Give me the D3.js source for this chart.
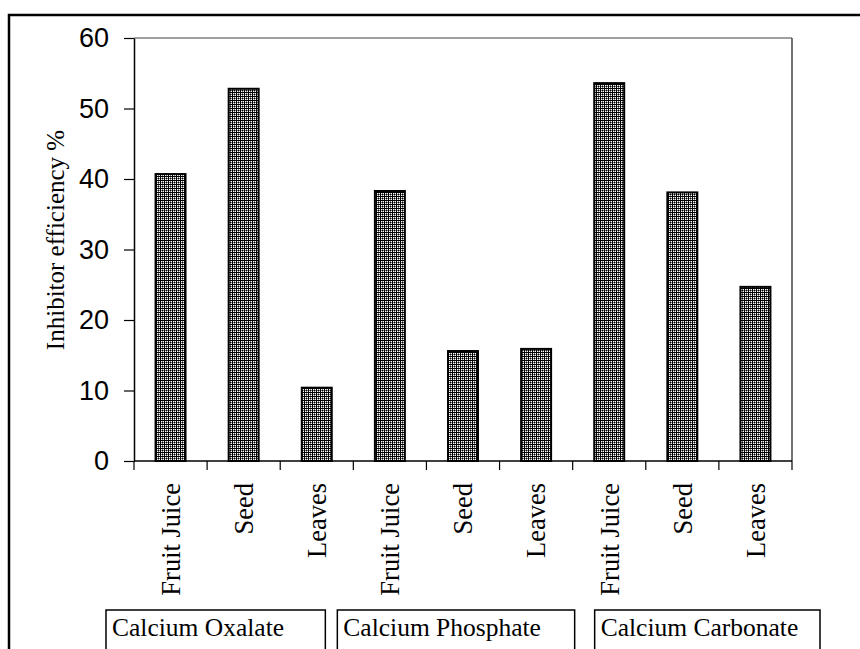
<!DOCTYPE html>
<style>
body { margin: 0; background: #fff; }
#thevis { display: block; background: #fff; }
</style>
<svg id="thevis" width="860" height="649"></svg>
<script src="https://cdn.jsdelivr.net/npm/d3@7/dist/d3.min.js"></script>
<script>

// values
var parts = ["Fruit Juice", "Seed", "Leaves", "Fruit Juice", "Seed", "Leaves", "Fruit Juice", "Seed", "Leaves"];
var efficiency = [40.7, 52.8, 10.4, 38.3, 15.6, 15.9, 53.6, 38.1, 24.7];
var groups = ["Calcium Oxalate", "Calcium Phosphate", "Calcium Carbonate"];
var yTicks = [0, 10, 20, 30, 40, 50, 60];

var svg = d3.select("svg"),
	plotL = 134, plotR = 792, plotT = 38, plotB = 461;

// outer frame (runs off the page on the right and bottom)
svg.append("rect")
	.attr("x", 9).attr("y", 15)
	.attr("width", 900).attr("height", 700)
	.attr("fill", "none").attr("stroke", "#000").attr("stroke-width", 2.5);

// dotted fill like the old excel pattern
var pat = svg.append("defs").append("pattern")
	.attr("id", "dots").attr("patternUnits", "userSpaceOnUse")
	.attr("width", 4).attr("height", 4);
pat.append("rect").attr("width", 4).attr("height", 4).attr("fill", "#fff");
pat.append("path").attr("d", "M0,0h4v1h-4z M0,0h1v4h-1z M2,2h1v1h-1z").attr("fill", "#000");
pat.append("path").attr("d", "M1,2h1v1h-1z M3,2h1v1h-1z M2,1h1v1h-1z M2,3h1v1h-1z").attr("fill", "#777");

var x = d3.scaleBand()
	.domain(d3.range(parts.length))
	.range([plotL, plotR]);

var y = d3.scaleLinear()
	.domain([0, 60])
	.range([plotB, plotT]);

// plot box top + right edge
svg.append("line").attr("x1", plotL).attr("x2", plotR).attr("y1", plotT).attr("y2", plotT)
	.attr("stroke", "#808080").attr("stroke-width", 1.5);
svg.append("line").attr("x1", plotR).attr("x2", plotR).attr("y1", plotT).attr("y2", plotB)
	.attr("stroke", "#444").attr("stroke-width", 1.5);

var barW = x.bandwidth() * 0.41;

svg.append("g")
	.selectAll("rect")
	.data(efficiency)
	.enter().append("rect")
		.attr("x", function(d, i) { return x(i) + (x.bandwidth() - barW) / 2; })
		.attr("y", function(d) { return y(d); })
		.attr("width", barW)
		.attr("height", function(d) { return y(0) - y(d); })
		.attr("fill", "url(#dots)")
		.attr("stroke", "#000")
		.attr("stroke-width", 2);

// y axis
var yAxis = svg.append("g")
	.attr("transform", "translate(" + plotL + ",0)")
	.call(d3.axisLeft(y).tickValues(yTicks).tickSize(10).tickPadding(15).tickSizeOuter(0));
yAxis.select(".domain").attr("stroke", "#000").attr("stroke-width", 1.5);
yAxis.selectAll("line").attr("stroke", "#000").attr("stroke-width", 1.2);
yAxis.selectAll("text")
	.attr("font-family", "'Liberation Sans', Arial, sans-serif")
	.attr("font-size", "27px")
	.attr("fill", "#000");

// x axis: ticks sit on the band edges
var xAxis = svg.append("g").attr("transform", "translate(0," + plotB + ")");
xAxis.append("line").attr("x1", plotL).attr("x2", plotR)
	.attr("stroke", "#000").attr("stroke-width", 1.5);
xAxis.selectAll(".tick")
	.data(d3.range(parts.length + 1))
	.enter().append("line")
		.attr("x1", function(d) { return d < parts.length ? x(d) : plotR; })
		.attr("x2", function(d) { return d < parts.length ? x(d) : plotR; })
		.attr("y1", 0).attr("y2", 9)
		.attr("stroke", "#000").attr("stroke-width", 1.2);

svg.append("g")
	.selectAll("text")
	.data(parts)
	.enter().append("text")
		.attr("transform", function(d, i) {
			return "translate(" + (x(i) + x.bandwidth() / 2) + "," + (plotB + 22) + ") rotate(-90)";
		})
		.attr("dy", "0.35em")
		.attr("text-anchor", "end")
		.attr("font-family", "'Liberation Serif', 'Times New Roman', serif")
		.attr("font-size", "26.5px")
		.text(function(d) { return d; });

// y title
svg.append("text")
	.attr("transform", "translate(64,240) rotate(-90)")
	.attr("text-anchor", "middle")
	.attr("font-family", "'Liberation Serif', 'Times New Roman', serif")
	.attr("font-size", "25px")
	.text("Inhibitor efficiency %");

// group boxes under the labels (hand placed text boxes in the original)
var boxShift = [-28, -16, 22],
	boxExtra = [0, 18, 6];
var box = svg.append("g")
	.selectAll("g")
	.data(groups)
	.enter().append("g")
		.attr("transform", function(d, i) { return "translate(" + (x(i * 3) + boxShift[i]) + ",610)"; });
box.append("rect")
	.attr("width", function(d, i) { return x.bandwidth() * 3 + boxExtra[i]; })
	.attr("height", 60)
	.attr("fill", "#fff").attr("stroke", "#000").attr("stroke-width", 1.5);
box.append("text")
	.attr("x", 6).attr("y", 26)
	.attr("font-family", "'Liberation Serif', 'Times New Roman', serif")
	.attr("font-size", "25.5px")
	.text(function(d) { return d; });

</script>
